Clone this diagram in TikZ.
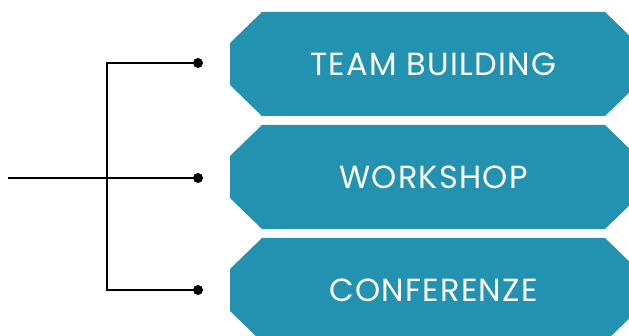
\documentclass[tikz,border=0pt]{standalone}
\usepackage{fontspec}
\setmainfont{Poppins}
\newfontfamily\tilefont[LetterSpace=4]{Poppins}
\definecolor{tealbox}{RGB}{35,146,176}
\tikzset{
  tile/.style={text=white, inner sep=0pt, font=\tilefont\fontsize{32}{32}\selectfont},
  dot/.style={circle, fill=black, minimum size=10pt, inner sep=0pt},
}
% chamfered box: name, centre y, label
\newcommand\tilebox[3]{%
  \fill[tealbox] (230,#2-21) -- (262,#2-52) -- (605,#2-52) -- (637,#2-21)
    -- (637,#2+21) -- (605,#2+52) -- (262,#2+52) -- (230,#2+21) -- cycle;
  \node[tile] (#1) at (433.5,#2) {#3};}
\begin{document}
\begin{tikzpicture}[x=1pt,y=-1pt]
  \useasboundingbox (0,0) rectangle (629,336);
  \clip (0,0) rectangle (629,336);
  \tilebox{t1}{64}{TEAM BUILDING}
  \tilebox{t2}{177}{WORKSHOP}
  \tilebox{t3}{290}{CONFERENZE}
  \node[dot] (d1) at (198,63) {};
  \node[dot] (d2) at (198,178) {};
  \node[dot] (d3) at (198,290) {};
  \coordinate (start) at (8,178);
  \coordinate (hub) at (107,178);
  \coordinate (top) at (107,63);
  \coordinate (bot) at (107,290);
  \draw[line width=2.2pt] (start) -- (hub) -- (d2.center);
  \draw[line width=2.2pt] (d1.center) -- (top) -- (bot) -- (d3.center);
\end{tikzpicture}
\end{document}
